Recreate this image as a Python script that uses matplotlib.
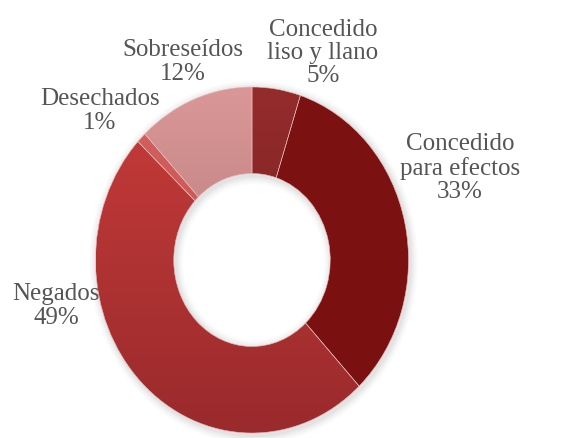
import numpy as np
import matplotlib
matplotlib.use("Agg")
import matplotlib.pyplot as plt
from matplotlib.colors import to_rgb

# data, clockwise from 12 o'clock
categories = ["Concedido\nliso y llano", "Concedido\npara efectos", "Negados",
              "Desechados", "Sobreseídos"]
values = [5, 33, 49, 1, 12]
# top / bottom colour of the vertical gradient in each slice
top_colors = ["#952c2c", "#7c1212", "#c73c3a", "#d6625f", "#db9797"]
bottom_colors = ["#6c1b1b", "#7a1010", "#9a2a2c", "#b54a4a", "#a46e6f"]

# label centres in pixels (x, y from top)
label_px = [(323, 53), (460, 168), (56, 306), (100, 111), (183, 62)]

W, H = 579, 438
fig = plt.figure(figsize=(W / 100, H / 100), dpi=100)
# ellipse: x from 95.5 to 408.5 px, y from 87 to 433 px
ax = fig.add_axes([95.5 / W, (H - 433) / H, 313 / W, 346 / H])

# soft shadow behind the ring
for k, a in enumerate([0.035, 0.03, 0.025, 0.02]):
    sh, _ = ax.pie([1], radius=1.0 + 0.012 * (k + 1), center=(0.01, -0.012),
                   colors=["#000000"],
                   wedgeprops=dict(width=0.5 + 0.024 * (k + 1), alpha=a, linewidth=0))

wedges, _ = ax.pie(values, startangle=90, counterclock=False, radius=1.0,
                   colors=top_colors,
                   wedgeprops=dict(width=0.5, edgecolor="#e8b8b8", linewidth=0.4))

ny = 256
t = np.linspace(0, 1, ny)[:, None]
for w, c0, c1 in zip(wedges, top_colors, bottom_colors):
    a0 = np.array(to_rgb(c0))
    a1 = np.array(to_rgb(c1))
    grad = (1 - t) * a0 + t * a1
    grad = np.repeat(grad[:, None, :], 2, axis=1)
    im = ax.imshow(grad, extent=(-1, 1, -1, 1), origin="upper",
                   interpolation="bilinear", zorder=w.get_zorder() + 0.1)
    im.set_clip_path(w)

# thin light separators on top of the gradients
for w in wedges:
    w.set_zorder(w.get_zorder() + 0.5)
    w.set_facecolor("none")

ax.set_xlim(-1, 1)
ax.set_ylim(-1, 1)
ax.set_aspect("auto")
ax.axis("off")

for cat, v, (px, py) in zip(categories, values, label_px):
    fig.text(px / W, 1 - py / H, f"{cat}\n{v}%", ha="center", va="center",
             fontsize=18, family="Liberation Serif", color="#555555",
             linespacing=1.08)

fig.savefig("out.png", dpi=100)
